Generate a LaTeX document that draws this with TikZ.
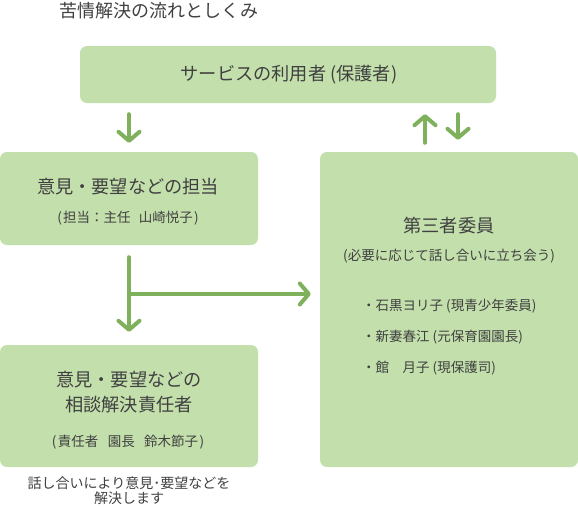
\documentclass[tikz,border=0pt]{standalone}
\usepackage{fontspec}
\setmainfont{Noto Sans CJK JP}
\usetikzlibrary{arrows.meta,calc}
\definecolor{boxfill}{HTML}{C3DFAC}
\definecolor{agreen}{HTML}{7FB05B}
\definecolor{txt}{HTML}{404040}
\tikzset{
  box/.style={draw=none, fill=boxfill, rounded corners=7pt, inner sep=0pt},
  head/.style={text=txt, inner sep=0pt, font=\fontsize{18.2}{25}\selectfont, align=center},
  sub/.style={text=txt, inner sep=0pt, font=\fontsize{13.5}{16}\selectfont},
  note/.style={text=txt, inner sep=0pt, font=\fontsize{14}{15}\selectfont, align=center},
  arr/.style={draw=agreen, line width=4pt, line cap=round, line join=round,
    -{Straight Barb[length=9pt,width=21pt,line cap=round,line join=round]}}
}
\begin{document}
\begin{tikzpicture}[x=1pt,y=-1pt]
\useasboundingbox (0,0) rectangle (578,506);
% title
\node[text=txt, inner sep=0pt, font=\fontsize{18}{20}\selectfont] (title) at (159,11) {苦情解決の流れとしくみ};
% boxes
\node[box, minimum width=416pt, minimum height=57pt] (top) at (288,74.5) {};
\node[box, minimum width=258pt, minimum height=93pt] (b1) at (129,198.5) {};
\node[box, minimum width=258pt, minimum height=315pt] (rb) at (449,309.5) {};
\node[box, minimum width=258pt, minimum height=122pt] (b2) at (129,406) {};
% texts
\node[head] (ttop) at (289,75) {サービスの利用者 (保護者)};
\node[head] (t1) at (128,187) {意見・要望などの担当};
\node[sub] (s1) at (128,218) {(\hspace{0.1em}担当：主任\hspace{0.6em}山崎悦子\hspace{0.1em})};
\node[head] (tr) at (449,226) {第三者委員};
\node[sub] (sr) at (449,256) {(必要に応じて話し合いに立ち会う)};
\node[sub, anchor=west] (m1) at (362,306) {・石黒ヨリ子 (現青少年委員)};
\node[sub, anchor=west] (m2) at (362,337) {・新妻春江 (元保育園園長)};
\node[sub, anchor=west] (m3) at (362,368) {・館　月子 (現保護司)};
\node[head] (t2) at (129,392) {意見・要望などの\\相談解決責任者};
\node[sub] (s2) at (128,442) {(\hspace{0.1em}責任者\hspace{0.7em}園長\hspace{0.7em}鈴木節子\hspace{0.1em})};
\node[note] (n) at (129,491) {話し合いにより意見･要望などを\\解決します};
% arrows
\draw[arr, shorten <=11pt, shorten >=9pt] (top.south -| b1.north) -- (b1.north);
\draw[arr, shorten <=9pt, shorten >=11pt] ($(rb.north)+(-24,0)$) -- ($(top.south -| rb.north)+(-24,0)$);
\draw[arr, shorten <=11pt, shorten >=12pt] ($(top.south -| rb.north)+(9,0)$) -- ($(rb.north)+(9,0)$);
\coordinate (br) at (129,294);
\draw[arr, shorten <=12pt, shorten >=13pt] (b1.south) -- (b2.north);
\draw[arr, shorten >=9pt] (br) -- (br -| rb.west);
\end{tikzpicture}
\end{document}
